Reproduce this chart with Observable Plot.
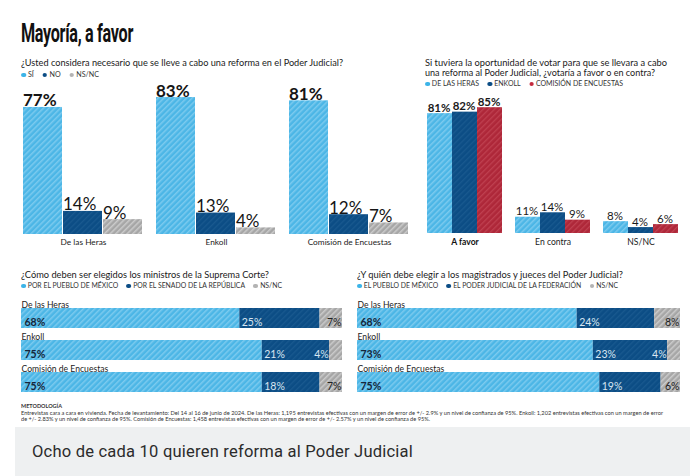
<!DOCTYPE html>
<html><head><meta charset="utf-8">
<script src="https://cdn.jsdelivr.net/npm/d3@7"></script>
<script src="https://cdn.jsdelivr.net/npm/@observablehq/plot@0.6"></script>
<style>
html,body{margin:0;padding:0;background:#fff}
body{width:690px;height:476px;overflow:hidden;position:relative;font-family:Lato,"Open Sans",sans-serif;color:#1a1a1a}
.abs{position:absolute;white-space:nowrap}
.fit{display:inline-block;transform-origin:0 50%}
.title{left:21px;top:20px;font-family:Roboto,Lato,sans-serif;font-weight:bold;font-size:26px;line-height:26px;color:#111;letter-spacing:-0.5px}
.q{font-size:9.6px;line-height:10px;color:#1a1a1a}
.leg{font-size:6.6px;line-height:8px;color:#333;text-transform:uppercase}
.leg .li{margin-right:8px}
.leg i{display:inline-block;width:4.5px;height:4.5px;border-radius:50%;margin-right:2px;vertical-align:0px}
.meta{font-size:5.6px;line-height:6.5px;color:#333}
.box{left:15px;top:427px;width:675px;height:49px;background:#eef0f1}
.cap{left:32px;top:443px;font-family:Roboto,sans-serif;font-size:16px;line-height:18px;color:#2b2b2b;letter-spacing:0.2px}
.panel{position:absolute}
</style></head>
<body>
<svg width="0" height="0" style="position:absolute">
<defs>
<pattern id="pLight" patternUnits="userSpaceOnUse" width="4" height="4" patternTransform="rotate(45)">
<rect width="4" height="4" fill="#4cb6e6"/><rect width="1.5" height="4" fill="#7ccbef"/></pattern>
<pattern id="pDark" patternUnits="userSpaceOnUse" width="4" height="4" patternTransform="rotate(45)">
<rect width="4" height="4" fill="#0c4d85"/><rect width="1.3" height="4" fill="#19598f"/></pattern>
<pattern id="pGray" patternUnits="userSpaceOnUse" width="4" height="4" patternTransform="rotate(45)">
<rect width="4" height="4" fill="#a6a6a6"/><rect width="1.5" height="4" fill="#cbcbcb"/></pattern>
<pattern id="pRed" patternUnits="userSpaceOnUse" width="4" height="4" patternTransform="rotate(45)">
<rect width="4" height="4" fill="#ae2739"/><rect width="1.3" height="4" fill="#bf4050"/></pattern>
</defs></svg>

<div class="abs title"><span class="fit" data-w="112">Mayoría, a favor</span></div>

<div class="abs q" style="left:21px;top:58px"><span class="fit" data-w="322" id="q1t"></span></div>
<div class="abs leg" style="left:21px;top:70px"><span class="fit" data-w="78" id="q1l"></span></div>

<div class="abs q" style="left:425px;top:58px"><span class="fit" data-w="242" id="q2t1"></span></div>
<div class="abs q" style="left:425px;top:68px"><span class="fit" data-w="230" id="q2t2"></span></div>
<div class="abs leg" style="left:425px;top:79px"><span class="fit" data-w="198" id="q2l"></span></div>

<div class="abs q" style="left:21px;top:270px"><span class="fit" data-w="248" id="q3t"></span></div>
<div class="abs leg" style="left:21px;top:281px"><span class="fit" data-w="261" id="q3l"></span></div>

<div class="abs q" style="left:357px;top:270px"><span class="fit" data-w="266" id="q4t"></span></div>
<div class="abs leg" style="left:357px;top:281px"><span class="fit" data-w="261" id="q4l"></span></div>

<div class="panel" id="pA" style="left:0;top:76px"></div>
<div class="panel" id="pB" style="left:410px;top:90px"></div>
<div class="panel" id="pC" style="left:0;top:295px"></div>
<div class="panel" id="pD" style="left:345px;top:295px"></div>

<div class="abs meta" style="left:21px;top:403px;font-weight:bold"><span class="fit" data-w="41">METODOLOGÍA</span></div>
<div class="abs meta" style="left:21px;top:409.5px"><span class="fit" data-w="642" id="m1"></span></div>
<div class="abs meta" style="left:21px;top:416px"><span class="fit" data-w="409" id="m2"></span></div>

<div class="abs box"></div>
<div class="abs cap"><span class="fit" data-w="381" id="cap"></span></div>

<script>
// ---------- DATA ----------
const q1Title = "¿Usted considera necesario que se lleve a cabo una reforma en el Poder Judicial?";
const q1Pollsters = ["De las Heras", "Enkoll", "Comisión de Encuestas"];
const q1Answers = ["Sí", "No", "NS/NC"];
const q1Values = [[77, 14, 9], [83, 13, 4], [81, 12, 7]];

const q2Title = ["Si tuviera la oportunidad de votar para que se llevara a cabo", "una reforma al Poder Judicial, ¿votaría a favor o en contra?"];
const q2Options = ["A favor", "En contra", "NS/NC"];
const q2Pollsters = ["De las Heras", "Enkoll", "Comisión de Encuestas"];
const q2Values = [[81, 82, 85], [11, 14, 9], [8, 4, 6]];

const q3Title = "¿Cómo deben ser elegidos los ministros de la Suprema Corte?";
const q3Rows = ["De las Heras", "Enkoll", "Comisión de Encuestas"];
const q3Answers = ["Por el pueblo de México", "Por el Senado de la República", "NS/NC"];
const q3Values = [[68, 25, 7], [75, 21, 4], [75, 18, 7]];

const q4Title = "¿Y quién debe elegir a los magistrados y jueces del Poder Judicial?";
const q4Rows = ["De las Heras", "Enkoll", "Comisión de Encuestas"];
const q4Answers = ["El pueblo de México", "El Poder Judicial de la Federación", "NS/NC"];
const q4Values = [[68, 24, 8], [73, 23, 4], [75, 19, 6]];

const metodologia = [
  "Entrevistas cara a cara en vivienda. Fecha de levantamiento: Del 14 al 16 de junio de 2024. De las Heras: 1,195 entrevistas efectivas con un margen de error de +/- 2.9% y un nivel de confianza de 95%. Enkoll: 1,202 entrevistas efectivas con un margen de error",
  "de +/- 2.83% y un nivel de confianza de 95%. Comisión de Encuestas: 1,458 entrevistas efectivas con un margen de error de +/- 2.57% y un nivel de confianza de 95%."
];
const caption = "Ocho de cada 10 quieren reforma al Poder Judicial";

// ---------- STYLE ----------
const fills3 = ["url(#pLight)", "url(#pDark)", "url(#pGray)"];
const fillsB = ["url(#pLight)", "url(#pDark)", "url(#pRed)"];
const dots3 = ["#3cb4e8", "#0c4d85", "#b3b3b3"];
const dotsB = ["#3cb4e8", "#0c4d85", "#c42a3d"];

// ---------- TEXT ----------
document.getElementById("q1t").textContent = q1Title;
document.getElementById("q2t1").textContent = q2Title[0];
document.getElementById("q2t2").textContent = q2Title[1];
document.getElementById("q3t").textContent = q3Title;
document.getElementById("q4t").textContent = q4Title;
document.getElementById("m1").textContent = metodologia[0];
document.getElementById("m2").textContent = metodologia[1];
document.getElementById("cap").textContent = caption;

function legend(id, labels, colors) {
  const el = document.getElementById(id);
  labels.forEach((l, i) => {
    const s = document.createElement("span");
    s.className = "li";
    const dot = document.createElement("i");
    dot.style.background = colors[i];
    s.appendChild(dot);
    s.appendChild(document.createTextNode(l));
    if (i === labels.length - 1) s.style.marginRight = "0";
    el.appendChild(s);
  });
}
legend("q1l", q1Answers, dots3);
legend("q2l", q2Pollsters, dotsB);
legend("q3l", q3Answers, dots3);
legend("q4l", q4Answers, dots3);

// ---------- PANEL A ----------
const dataA = q1Pollsters.flatMap((p, i) => q1Answers.map((a, j) => ({pollster: p, answer: a, value: q1Values[i][j]})));
const plotA = Plot.plot({
  width: 420, height: 184,
  marginLeft: 21, marginRight: 9, marginTop: 0, marginBottom: 26,
  fx: {domain: q1Pollsters, paddingInner: 0.085, paddingOuter: 0, axis: null, label: null},
  x: {domain: q1Answers, padding: 0.02, axis: null},
  y: {domain: [0, 100], range: [158, -7], axis: null},
  color: {domain: q1Answers, range: fills3},
  style: {fontFamily: "Lato, sans-serif", color: "#1a1a1a"},
  marks: [
    Plot.barY(dataA, {fx: "pollster", x: "answer", y: "value", fill: "answer"}),
    Plot.text(dataA, {filter: d => d.answer === q1Answers[0], fx: "pollster", x: "answer", y: "value", text: d => d.value + "%",
      textAnchor: "start", lineAnchor: "bottom", dx: -20, dy: -1, fontSize: 17, fontWeight: "bold", fill: "#151515"}),
    Plot.text(dataA, {filter: d => d.answer !== q1Answers[0], fx: "pollster", x: "answer", y: "value", text: d => d.value + "%",
      textAnchor: "start", lineAnchor: "bottom", dx: -20, dy: -1, fontSize: 17, fill: "#151515"}),
    Plot.text(q1Pollsters, {fx: d => d, text: d => d, frameAnchor: "bottom", lineAnchor: "top", dy: 5, fontSize: 8.3, fill: "#222"})
  ]
});
document.getElementById("pA").appendChild(plotA);

// ---------- PANEL B ----------
const dataB = q2Options.flatMap((o, i) => q2Pollsters.map((p, j) => ({option: o, pollster: p, value: q2Values[i][j]})));
const plotB = Plot.plot({
  width: 280, height: 170,
  marginLeft: 15, marginRight: 11, marginTop: 0, marginBottom: 27,
  fx: {domain: q2Options, paddingInner: 0.125, paddingOuter: 0, axis: null, label: null},
  x: {domain: q2Pollsters, padding: 0.02, axis: null},
  y: {domain: [0, 100], range: [143, -5], axis: null},
  color: {domain: q2Pollsters, range: fillsB},
  style: {fontFamily: "Lato, sans-serif", color: "#1a1a1a"},
  marks: [
    Plot.barY(dataB, {fx: "option", x: "pollster", y: "value", fill: "pollster"}),
    Plot.text(dataB, {filter: d => d.option === q2Options[0], fx: "option", x: "pollster", y: "value", text: d => d.value + "%",
      lineAnchor: "bottom", dy: -2, dx: -1, fontSize: 11.5, fontWeight: "bold", fill: "#1a1a1a"}),
    Plot.text(dataB, {filter: d => d.option !== q2Options[0], fx: "option", x: "pollster", y: "value", text: d => d.value + "%",
      lineAnchor: "bottom", dy: -2, dx: -1, fontSize: 11.5, fill: "#1a1a1a"}),
    Plot.text(q2Options.slice(0, 1), {fx: d => d, text: d => d, frameAnchor: "bottom", lineAnchor: "top", dy: 5, fontSize: 8.6, fontWeight: "bold", fill: "#111"}),
    Plot.text(q2Options.slice(1), {fx: d => d, text: d => d, frameAnchor: "bottom", lineAnchor: "top", dy: 5, fontSize: 8.6, fill: "#222"})
  ]
});
document.getElementById("pB").appendChild(plotB);

// ---------- STACKED PANELS ----------
function stackRows(rows, answers, values) {
  return rows.flatMap((r, i) => {
    let c = 0;
    return answers.map((a, j) => {
      const v = values[i][j];
      const o = {row: r, answer: a, value: v, x0: c, x1: c + v, idx: j};
      c += v;
      return o;
    });
  });
}
function stacked(rows, answers, values, width, mLeft, mRight) {
  const data = stackRows(rows, answers, values);
  const lab = d => d.value + "%";
  return Plot.plot({
    width, height: 100,
    marginLeft: mLeft, marginRight: mRight, marginTop: 13, marginBottom: 3,
    x: {domain: [0, 100], axis: null},
    y: {domain: rows, paddingInner: 0.375, paddingOuter: 0, axis: null},
    color: {domain: answers, range: fills3},
    style: {fontFamily: "Lato, sans-serif"},
    marks: [
      Plot.barX(data, {x1: "x0", x2: "x1", y: "row", fill: "answer"}),
      Plot.text(data, {filter: d => d.idx === 0, x: "x0", y: "row", text: lab, textAnchor: "start", dx: 3, dy: 4.5, fontSize: 10.5, fontWeight: "bold", fill: "#16263a"}),
      Plot.text(data, {filter: d => d.idx === 1, x: "x0", y: "row", text: lab, textAnchor: "start", dx: 2, dy: 4.5, fontSize: 10.5, fill: "#d8e6f2"}),
      Plot.text(data, {filter: d => d.idx === 2 && d.value >= 6, x: "x1", y: "row", text: lab, textAnchor: "end", dx: -1, dy: 4.5, fontSize: 10.5, fill: "#222"}),
      Plot.text(data, {filter: d => d.idx === 2 && d.value < 6, x: "x0", y: "row", text: lab, textAnchor: "end", dx: -1, dy: 4.5, fontSize: 10.5, fill: "#d8e6f2"}),
      Plot.text(rows, {y: d => d, text: d => d, frameAnchor: "left", textAnchor: "start", lineAnchor: "bottom", dy: -11, fontSize: 8.6, fill: "#222"})
    ]
  });
}
document.getElementById("pC").appendChild(stacked(q3Rows, q3Answers, q3Values, 350, 21, 8));
document.getElementById("pD").appendChild(stacked(q4Rows, q4Answers, q4Values, 345, 12, 10));

// ---------- FIT TEXT WIDTHS ----------
function fitAll() {
  document.querySelectorAll(".fit").forEach(el => {
    el.style.transform = "none";
    const w = el.getBoundingClientRect().width;
    const t = +el.dataset.w;
    if (w > 0 && t > 0) el.style.transform = `scaleX(${t / w})`;
  });
}
fitAll();
if (document.fonts && document.fonts.ready) document.fonts.ready.then(fitAll);
</script>
</body></html>
